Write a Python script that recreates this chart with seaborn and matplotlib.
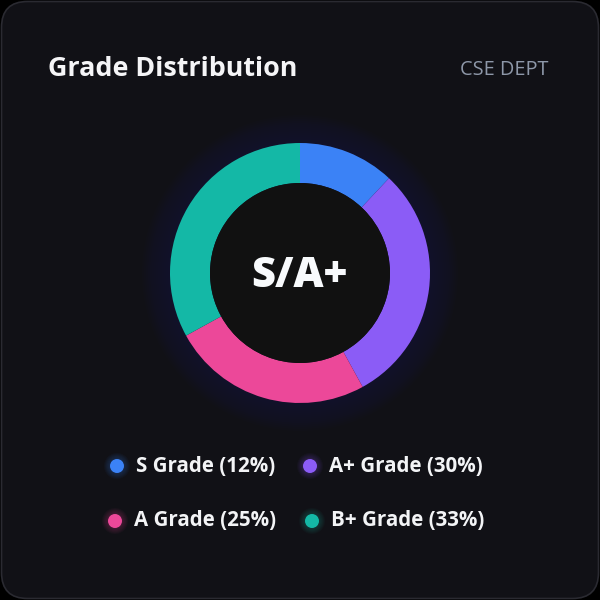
import matplotlib
matplotlib.use("Agg")
import matplotlib.pyplot as plt
import seaborn as sns
from matplotlib.patches import FancyBboxPatch, Circle

# ---- data ----
grades = ["S Grade", "A+ Grade", "A Grade", "B+ Grade"]
shares = [12, 30, 25, 33]
colors = ["#3b82f6", "#8b5cf6", "#ec4899", "#14b8a6"]
title = "Grade Distribution"
subtitle = "CSE DEPT"
center_label = "S/A+"

sns.set_theme(style="white")
plt.rcParams["font.family"] = ["Open Sans", "DejaVu Sans"]
palette = sns.color_palette(colors)

W = H = 600
fig = plt.figure(figsize=(6, 6), dpi=100, facecolor="black")
ax = fig.add_axes([0, 0, 1, 1])
ax.set_facecolor("black")

def Y(y):
    return H - y

# card
card = FancyBboxPatch((1.5, 1.5), W - 3, H - 3,
                      boxstyle="round,pad=0,rounding_size=26",
                      facecolor="#111116", edgecolor="#2a2a31", linewidth=1.2, zorder=1)
ax.add_patch(card)

cx, cy = 300, 273
R_out, R_in = 130, 90

# glow around donut
for i in range(14):
    r = R_out + 28 - i * 2
    ax.add_patch(Circle((cx, Y(cy)), r, facecolor="#4338ca", alpha=0.01,
                        edgecolor="none", zorder=2))

wedges, _ = ax.pie(shares, colors=palette, startangle=90, counterclock=False,
                   center=(cx, Y(cy)), radius=R_out,
                   wedgeprops=dict(width=R_out - R_in, linewidth=0), frame=True)
for w in wedges:
    w.set_zorder(3)

# inner circle
ax.add_patch(Circle((cx, Y(cy)), R_in, facecolor="#111111", edgecolor="none", zorder=4))
ax.text(cx - 1, Y(cy + 3), center_label, ha="center", va="center", color="#f8fafc",
        fontsize=30, fontweight="heavy", zorder=5)

# titles
ax.text(48, Y(69), title, ha="left", va="center", color="#f5f5f7",
        fontsize=19.4, fontweight="bold", zorder=5)
ax.text(549, Y(70), subtitle, ha="right", va="center", color="#8e98a9",
        fontsize=14.3, zorder=5)

# legend
pos = [(117, 466), (310, 466), (115, 521), (312, 521)]
for (x, y), g, s, c in zip(pos, grades, shares, palette):
    for k in range(6):
        ax.add_patch(Circle((x, Y(y)), 7 + (6 - k) * 1.0, facecolor=c, alpha=0.04,
                            edgecolor="none", zorder=4))
    ax.add_patch(Circle((x, Y(y)), 7, facecolor=c, edgecolor="none", zorder=5))
    ax.text(x + 19, Y(y), f"{g} ({s}%)", ha="left", va="center", color="#f3f4f6",
            fontsize=14.8, fontweight="bold", zorder=5)

ax.set_xlim(0, W)
ax.set_ylim(0, H)
ax.set_aspect("auto")
ax.axis("off")
fig.savefig("out.png", dpi=100, facecolor="black")
